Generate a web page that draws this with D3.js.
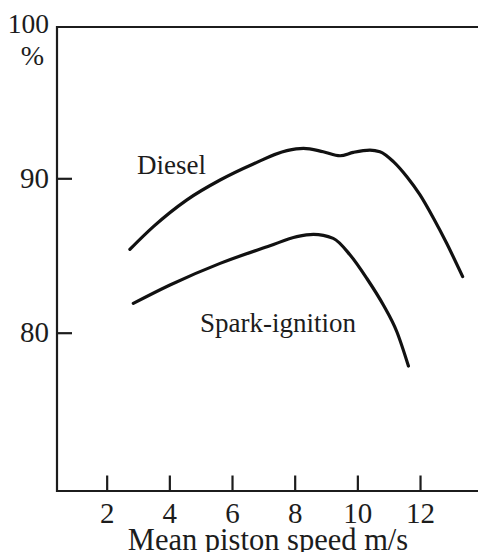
<!DOCTYPE html>
<html>
<head>
<meta charset="utf-8">
<script src="https://cdn.jsdelivr.net/npm/d3@7"></script>
<style>
  html, body { margin: 0; padding: 0; background: #fff; }
  svg { display: block; }
</style>
</head>
<body>
<svg id="chart" width="478" height="552"></svg>
<script>
// Mean piston speed (m/s) against efficiency (%)
const dieselSpeed = [2.74, 3.49, 4.55, 5.62, 6.68, 7.75, 8.28, 8.91, 9.45, 9.87, 10.40, 10.72, 11.15, 11.58, 12.0, 12.43, 12.85, 13.36];
const dieselEff   = [85.40, 86.87, 88.59, 89.89, 90.93, 91.79, 91.94, 91.72, 91.46, 91.68, 91.83, 91.72, 91.08, 90.10, 88.92, 87.41, 85.79, 83.63];

const sparkSpeed = [2.85, 4.02, 5.62, 7.21, 8.07, 8.60, 9.23, 9.77, 10.30, 10.83, 11.26, 11.63];
const sparkEff   = [81.90, 83.09, 84.49, 85.63, 86.22, 86.37, 86.11, 85.03, 83.52, 81.79, 80.06, 77.84];

const xTicks = [2, 4, 6, 8, 10, 12];
const yTicks = [80, 90, 100];
const xTitle = "Mean piston speed m/s";
const yUnit = "%";
const seriesLabels = ["Diesel", "Spark-ignition"];

const serif = '"Liberation Serif"';
const svg = d3.select("#chart");
const ink = "#1c1c1c";

// plot frame
const frame = { left: 57, top: 27, right: 480, bottom: 491 };

const x = d3.scaleLinear().domain([0, 14]).range([44, 482.7]);
const y = d3.scaleLinear().domain([70, 100]).range([487.1, 23.9]);

// frame: top, left and bottom edges
svg.append("path")
  .attr("d", `M${frame.right},${frame.top}H${frame.left}V${frame.bottom}H${frame.right}`)
  .attr("fill", "none")
  .attr("stroke", ink)
  .attr("stroke-width", 2.2);

// x axis, ticks pointing into the plot
const gx = svg.append("g")
  .attr("transform", `translate(0,${frame.bottom})`)
  .call(d3.axisBottom(x).tickValues(xTicks).tickSize(-15.5).tickSizeOuter(0).tickFormat(d3.format("d")));
gx.attr("font-family", null);
gx.select(".domain").remove();
gx.selectAll(".tick line").attr("stroke", ink).attr("stroke-width", 2.2);
gx.selectAll(".tick text")
  .attr("y", 31.5).attr("dy", null)
  .style("font-family", serif)
  .style("font-size", "29px")
  .attr("fill", ink);

// y axis, ticks pointing into the plot; the top value carries no tick mark
const gy = svg.append("g")
  .attr("transform", `translate(${frame.left},0)`)
  .call(d3.axisLeft(y).tickValues(yTicks).tickSize(-15).tickSizeOuter(0).tickPadding(8).tickFormat(d3.format("d")));
gy.attr("font-family", null);
gy.select(".domain").remove();
gy.selectAll(".tick line")
  .attr("stroke", ink).attr("stroke-width", 2.2)
  .attr("x2", d => d === 100 ? 0 : 15);
gy.selectAll(".tick text")
  .style("font-family", serif)
  .style("font-size", d => d === 100 ? "27.5px" : "29px")
  .attr("fill", ink);

// unit under the top value
svg.append("text")
  .attr("x", 32.5).attr("y", 65)
  .attr("text-anchor", "middle")
  .style("font-family", serif)
  .style("font-size", "28px")
  .attr("fill", ink)
  .text(yUnit);

// x axis title
svg.append("text")
  .attr("x", 268).attr("y", 550)
  .attr("text-anchor", "middle")
  .style("font-family", serif)
  .style("font-size", "30.5px")
  .attr("fill", ink)
  .text(xTitle);

// curves
const line = d3.line()
  .x(d => x(d[0]))
  .y(d => y(d[1]))
  .curve(d3.curveMonotoneX);

const series = [
  d3.zip(dieselSpeed, dieselEff),
  d3.zip(sparkSpeed, sparkEff)
];

svg.append("g").selectAll("path")
  .data(series)
  .join("path")
  .attr("d", line)
  .attr("fill", "none")
  .attr("stroke", "#111")
  .attr("stroke-width", 3.2)
  .attr("stroke-linecap", "round");

// curve labels
svg.append("text")
  .attr("x", 137).attr("y", 174)
  .style("font-family", serif)
  .style("font-size", "27px")
  .attr("fill", ink)
  .text(seriesLabels[0]);
svg.append("text")
  .attr("x", 200).attr("y", 331.5)
  .style("font-family", serif)
  .style("font-size", "27px")
  .attr("fill", ink)
  .text(seriesLabels[1]);
</script>
</body>
</html>
